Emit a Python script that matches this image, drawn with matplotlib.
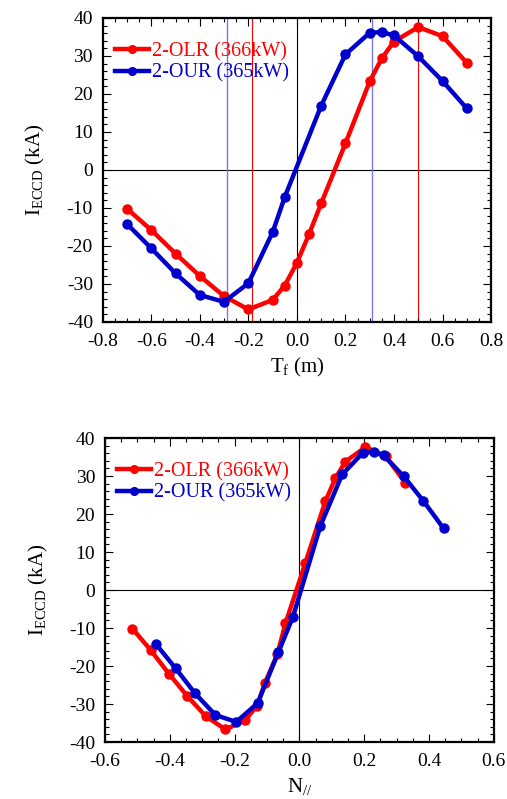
import matplotlib
matplotlib.use("Agg")
import matplotlib.pyplot as plt
from matplotlib.ticker import MultipleLocator

plt.rcParams['font.family'] = ['Liberation Serif', 'DejaVu Serif']
plt.rcParams['mathtext.fontset'] = 'custom'
plt.rcParams['mathtext.rm'] = 'Liberation Serif'
plt.rcParams['mathtext.it'] = 'Liberation Serif:italic'
plt.rcParams['axes.unicode_minus'] = False

# ---- data: top panel (vs T_f) ----
tf_olr = [-0.7, -0.6, -0.5, -0.4, -0.3, -0.2, -0.1, -0.05, 0.0, 0.05, 0.1, 0.2, 0.3, 0.35, 0.4, 0.5, 0.6, 0.7]
i_olr = [-10.2, -15.8, -22.0, -27.9, -33.2, -36.7, -34.2, -30.4, -24.4, -16.9, -8.8, 7.0, 23.3, 29.4, 33.8, 37.6, 35.2, 28.2]
tf_our = [-0.7, -0.6, -0.5, -0.4, -0.3, -0.2, -0.1, -0.05, 0.1, 0.2, 0.3, 0.35, 0.4, 0.5, 0.6, 0.7]
i_our = [-14.2, -20.6, -27.2, -32.9, -34.7, -29.8, -16.4, -7.1, 16.9, 30.4, 36.1, 36.3, 35.4, 29.9, 23.4, 16.2]

# ---- data: bottom panel (vs N//) ----
n_olr = [-0.515, -0.459, -0.403, -0.346, -0.289, -0.228, -0.167, -0.13, -0.106, -0.068, -0.043, 0.018, 0.080, 0.111, 0.142, 0.204, 0.266, 0.327]
n_our = [-0.443, -0.382, -0.322, -0.259, -0.195, -0.129, -0.065, -0.02, 0.065, 0.132, 0.196, 0.229, 0.261, 0.322, 0.383, 0.445]

# reference vertical lines (T_f)
vlines_olr = [-0.187, 0.5]
vlines_our = [-0.29, 0.308]

label_olr = "2-OLR (366kW)"
label_our = "2-OUR (365kW)"
RED = "#ff0000"
BLUE = "#0000cc"

fig = plt.figure(figsize=(5.07, 7.99), dpi=100)
ax1 = fig.add_axes([0.2026, 0.597, 0.766, 0.3805])
ax2 = fig.add_axes([0.207, 0.0713, 0.767, 0.3805])


def style(ax, xlim, xlabel):
    ax.set_xlim(*xlim)
    ax.set_ylim(-40, 40)
    ax.xaxis.set_major_locator(MultipleLocator(0.2))
    ax.xaxis.set_minor_locator(MultipleLocator(0.05))
    ax.yaxis.set_major_locator(MultipleLocator(10))
    ax.yaxis.set_minor_locator(MultipleLocator(2))
    ax.tick_params(which='both', direction='in', top=True, right=True, labelsize=14, width=0.8)
    ax.tick_params(which='major', length=6)
    ax.tick_params(which='minor', length=3)
    ax.tick_params(axis='x', which='major', pad=8)
    ax.tick_params(axis='y', which='major', pad=7)
    for s in ax.spines.values():
        s.set_linewidth(1.6)
    ax.axhline(0, color='black', lw=0.8, zorder=1)
    ax.axvline(0, color='black', lw=0.8, zorder=1)
    ax.set_xlabel(xlabel, fontsize=15, labelpad=4)
    ax.set_ylabel(r"$\mathregular{I_{ECCD}}$ (kA)", fontsize=15, labelpad=14)


style(ax1, (-0.8, 0.8), r"$\mathregular{T_f}$ (m)")
style(ax2, (-0.6, 0.6), r"$\mathregular{N_{//}}$")

for v in vlines_olr:
    ax1.axvline(v, color=RED, lw=0.8, zorder=1)
for v in vlines_our:
    ax1.axvline(v, color='#7777ee', lw=1.0, zorder=1)

kw = dict(lw=3.2, marker='o', ms=6.5)
ax1.plot(tf_olr, i_olr, color=RED, label=label_olr, zorder=3, **kw)
ax1.plot(tf_our, i_our, color=BLUE, label=label_our, zorder=4, **kw)
ax2.plot(n_olr, i_olr, color=RED, label=label_olr, zorder=3, **kw)
ax2.plot(n_our, i_our, color=BLUE, label=label_our, zorder=4, **kw)

for ax in (ax1, ax2):
    leg = ax.legend(loc='upper left', frameon=False, fontsize=14.5, handlelength=1.7,
                    handletextpad=0.15, borderaxespad=0.2, labelspacing=0.1,
                    bbox_to_anchor=(0.0, 0.96), markerscale=0.85)
    for t, c in zip(leg.get_texts(), [RED, BLUE]):
        t.set_color(c)

fig.savefig("out.png", dpi=100)
